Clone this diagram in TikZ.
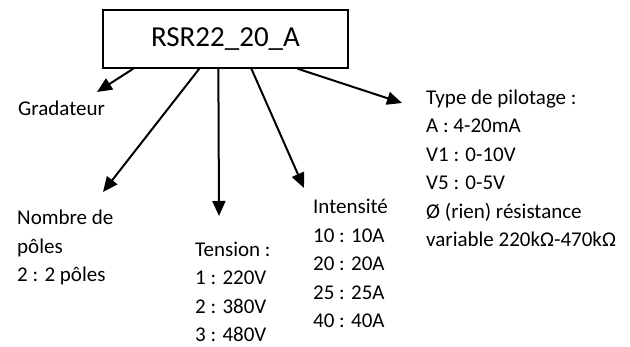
\documentclass[tikz,border=0pt]{standalone}
\usepackage{fontspec}
\setmainfont{Carlito}
\usetikzlibrary{arrows.meta,calc}
\begin{document}
\begin{tikzpicture}[x=1pt,y=-1pt,
  lbl/.style={anchor=base west,align=left,inner sep=0pt,font=\fontsize{21}{28.5}\selectfont},
  conn/.style={line width=2pt,-{Triangle[length=15pt,width=13pt]}}]
\useasboundingbox[fill=white] (0,0) rectangle (630,347);
\node[draw,line width=1.3pt,minimum width=245pt,minimum height=58pt,inner sep=0pt,
  font=\fontsize{29}{34}\selectfont] (box) at (225.5,39) {RSR22\_20\_A};
% multi-line nodes: base anchor = baseline of the last line
\node[lbl] (grad) at (18,116) {Gradateur};
\node[lbl] (poles) at (17,282) {Nombre de\\pôles\\2 : 2 pôles};
\node[lbl] (tens) at (195,342) {Tension :\\1 : 220V\\2 : 380V\\3 : 480V};
\node[lbl] (int) at (313,328) {Intensité\\10 : 10A\\20 : 20A\\25 : 25A\\40 : 40A};
\node[lbl] (pil) at (426,247) {Type de pilotage :\\A : 4-20mA\\V1 : 0-10V\\V5 : 0-5V\\Ø (rien) résistance\\variable 220kΩ-470kΩ};
\coordinate (t1) at (97,92);
\coordinate (t2) at (103,192);
\coordinate (t3) at (219,216);
\coordinate (t4) at (304,188);
\coordinate (t5) at (402,103);
\draw[conn] ($(box.south west)+(31,0)$) -- (t1);
\draw[conn] ($(box.south west)+(97,0)$) -- (t2);
\draw[conn] ($(box.south west)+(116,0)$) -- (t3);
\draw[conn] ($(box.south west)+(149,0)$) -- (t4);
\draw[conn] ($(box.south west)+(195,0)$) -- (t5);
\end{tikzpicture}
\end{document}
